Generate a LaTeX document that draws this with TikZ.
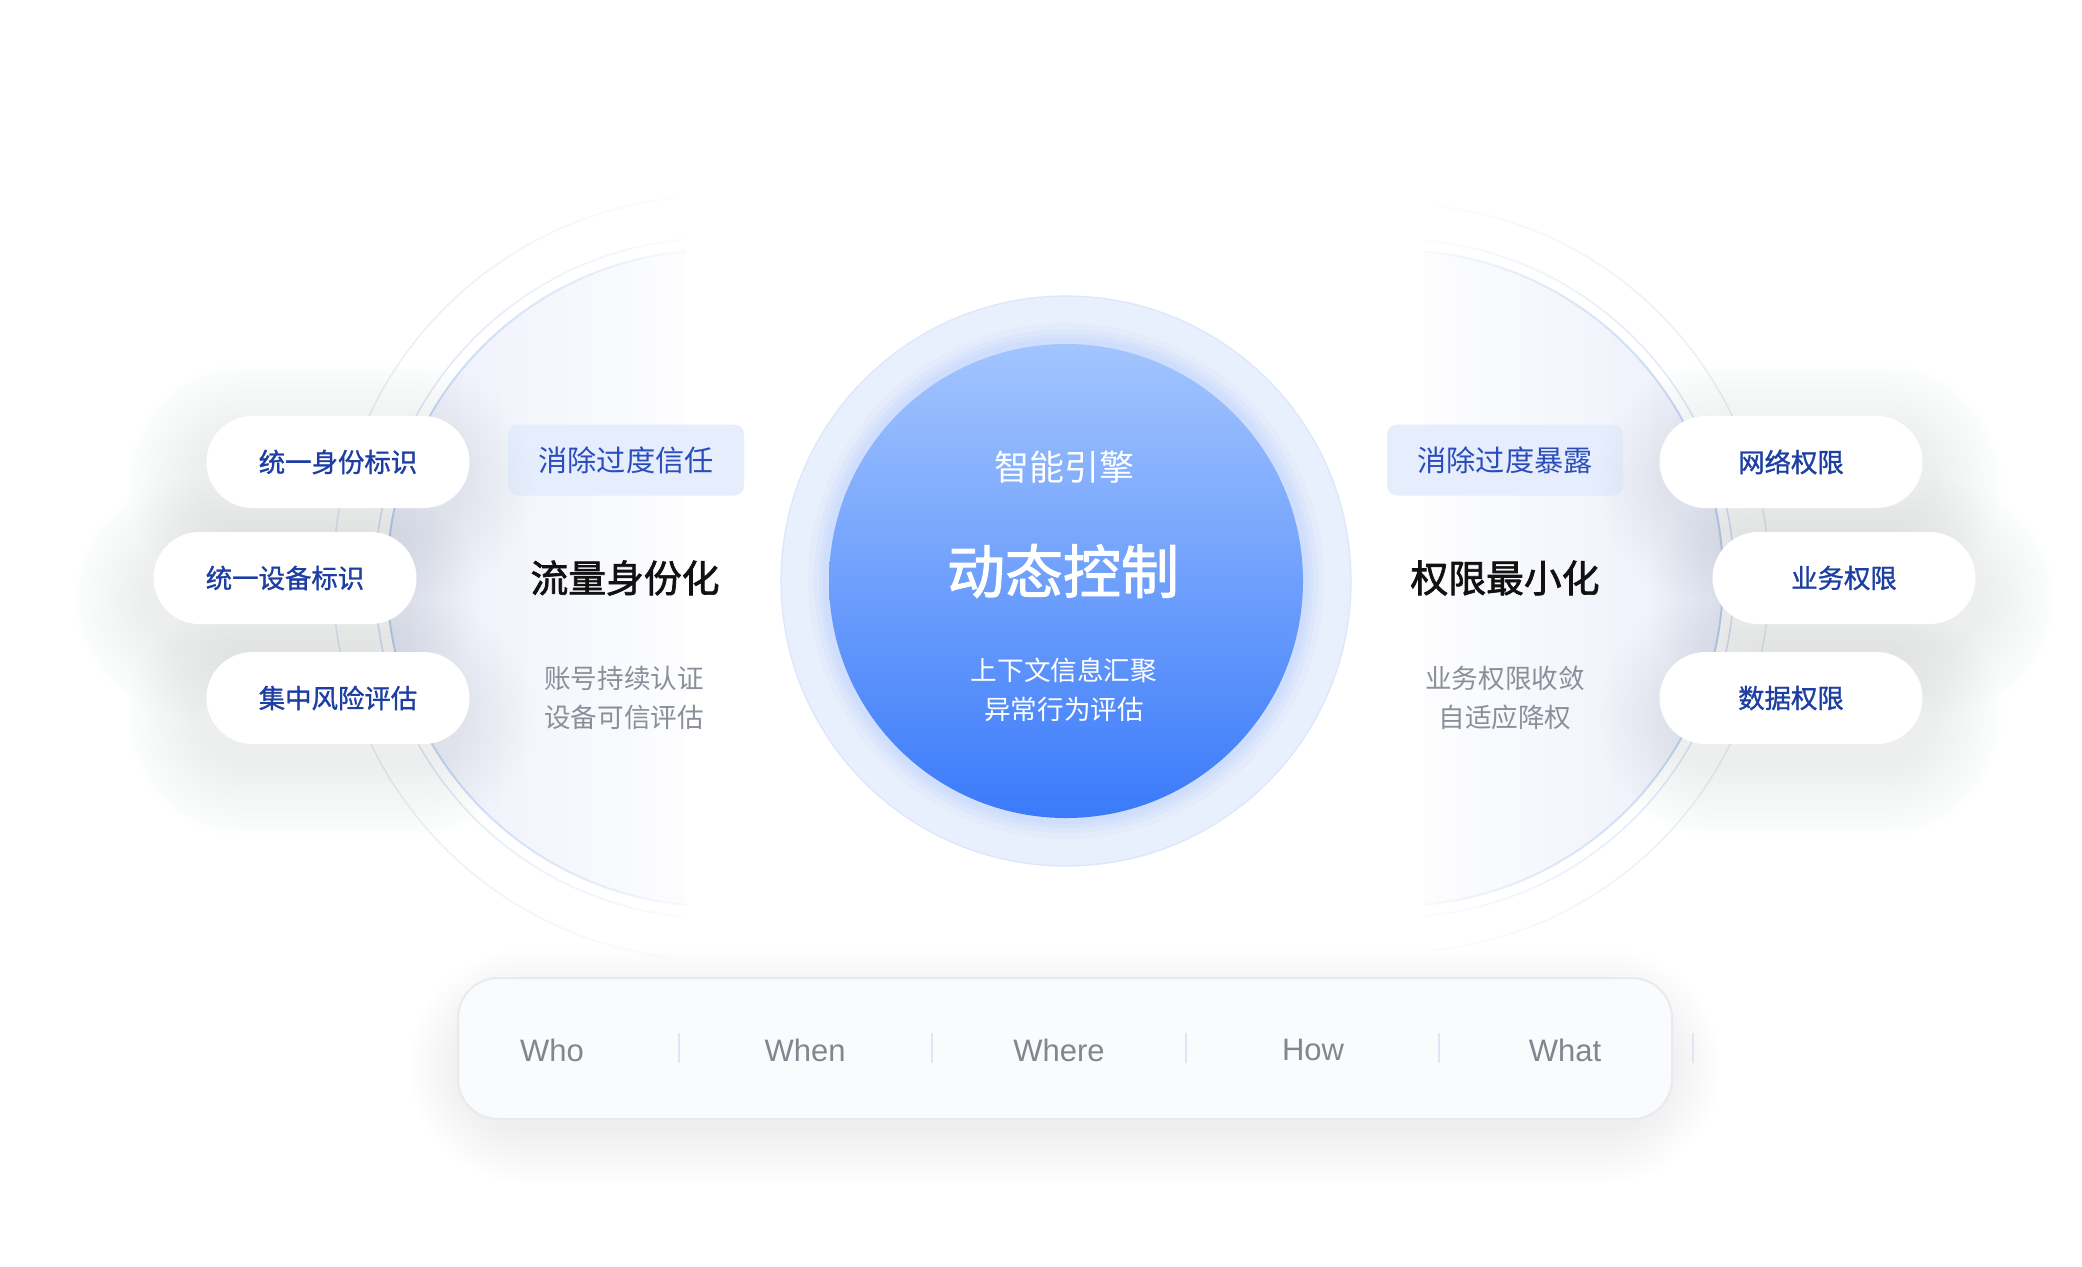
\documentclass[tikz,border=0pt]{standalone}
\usepackage{fontspec}
\setmainfont{Noto Sans CJK SC}
\newfontfamily\medfont[FakeBold=1.1]{Noto Sans CJK SC}
\newfontfamily\semifont[FakeBold=1.8]{Noto Sans CJK SC}
\newfontfamily\latinfont{Liberation Sans}
\usetikzlibrary{fadings}
\definecolor{pilltext}{HTML}{1D3EA3}
\definecolor{tagfill}{HTML}{E6EDFC}
\definecolor{tagtext}{HTML}{2A4DBB}
\definecolor{headtext}{HTML}{111111}
\definecolor{subtext}{HTML}{8A8F99}
\definecolor{wordtext}{HTML}{81868F}
\definecolor{sepcol}{HTML}{DEE6F7}
\definecolor{lfill}{HTML}{EBEFFB}
\definecolor{edgecol}{HTML}{BFD3F5}
\definecolor{arcA}{HTML}{D9E3F5}
\definecolor{arcB}{HTML}{E4EBF7}
\definecolor{halofill}{HTML}{E9F0FD}
\definecolor{halodraw}{HTML}{DCE6FA}
\definecolor{coretop}{HTML}{A3C5FE}
\definecolor{corebot}{HTML}{3A7AFA}
\definecolor{glow}{HTML}{C9DBFC}
\definecolor{boxfill}{HTML}{FAFBFC}
\definecolor{boxdraw}{HTML}{E7EAEF}
\definecolor{shadowcol}{HTML}{7D8797}
\tikzfading[name=fadeR, left color=transparent!0, middle color=transparent!25, right color=transparent!100]
\tikzfading[name=fadeL, right color=transparent!0, middle color=transparent!25, left color=transparent!100]
\tikzset{
  pill/.style={rectangle, rounded corners=23pt, minimum width=131.5pt, minimum height=46pt,
    inner sep=0pt, fill=white, text=pilltext, font=\medfont\fontsize{13.2}{15}\selectfont},
  tag/.style={rectangle, rounded corners=5pt, minimum width=118pt, minimum height=35.5pt,
    inner sep=0pt, fill=tagfill, text=tagtext, font=\fontsize{14.6}{16}\selectfont},
  heading/.style={font=\semifont\fontsize{18.9}{22}\selectfont, text=headtext},
  subtxt/.style={font=\fontsize{13.3}{19.5}\selectfont, text=subtext, align=center},
  word/.style={font=\latinfont\fontsize{15.5}{18}\selectfont, text=wordtext},
  sepline/.style={draw=sepcol, line width=1pt},
  edgearc/.style={draw=edgecol, line width=1pt},
  arcmid/.style={draw=arcA, line width=0.8pt},
  arcout/.style={draw=arcB, line width=0.8pt},
  coretxt/.style={text=white, align=center}
}
% soft shadow: cx, cy, half width, half height, step, opacity per step
\newcommand\softshade[6]{%
  \foreach \e in {1,...,16}{%
    \pgfmathsetmacro\ee{\e*#5}%
    \pgfmathsetmacro\rc{(#4+\ee)*0.5}%
    \fill[shadowcol, opacity=#6, rounded corners=\rc pt]
      ({#1-#3-\ee},{#2-#4-\ee}) rectangle ({#1+#3+\ee},{#2+#4+\ee});
  }%
}
\begin{document}
\begin{tikzpicture}[x=0.5pt,y=-0.5pt]
\useasboundingbox[fill=white] (0,0) rectangle (2082,1266);

% left big circle
\fill[lfill, path fading=fadeR] (715,578) ++(95:328) arc[start angle=95,end angle=265,radius=328] -- cycle;
\draw[arcout, path fading=fadeR] (715,578) ++(96:382) arc[start angle=96,end angle=264,radius=382];
\draw[arcmid, path fading=fadeR] (715,578) ++(95:340) arc[start angle=95,end angle=265,radius=340];
\draw[edgearc, path fading=fadeR] (715,578) ++(95:328) arc[start angle=95,end angle=265,radius=328];

% right big circle
\fill[lfill, path fading=fadeL] (1395,578) ++(-85:328) arc[start angle=-85,end angle=85,radius=328] -- cycle;
\draw[arcout, path fading=fadeL] (1395,578) ++(-84:374) arc[start angle=-84,end angle=84,radius=374];
\draw[arcmid, path fading=fadeL] (1395,578) ++(-85:339) arc[start angle=-85,end angle=85,radius=339];
\draw[edgearc, path fading=fadeL] (1395,578) ++(-85:328) arc[start angle=-85,end angle=85,radius=328];

% central circle
\node[circle, minimum size=285pt, inner sep=0pt, fill=halofill, draw=halodraw, line width=0.6pt] (halo) at (1066,581) {};
\foreach \r/\o in {258/0.15,252/0.25,247/0.35,243/0.5}{
  \fill[glow, opacity=\o] (1066,581) circle[radius=\r];
}
\node[circle, minimum size=237pt, inner sep=0pt, top color=coretop, bottom color=corebot] (core) at (1066,581) {};
\node[coretxt, font=\fontsize{17.5}{20}\selectfont] (engine) at (1064,467) {智能引擎};
\node[coretxt, font=\semifont\fontsize{29}{32}\selectfont] (dyn) at (1063,571) {动态控制};
\node[coretxt, font=\fontsize{13.3}{19.5}\selectfont] (ctx) at (1064,690) {上下文信息汇聚\\异常行为评估};

% left column
\node[tag] (tagL) at (626,460) {消除过度信任};
\node[heading] (headL) at (625,578) {流量身份化};
\node[subtxt] (subL) at (624,698) {账号持续认证\\设备可信评估};

% right column
\node[tag] (tagR) at (1505,460) {消除过度暴露};
\node[heading] (headR) at (1505,578) {权限最小化};
\node[subtxt] (subR) at (1505,698) {业务权限收敛\\自适应降权};

% pill shadows
\softshade{330}{482}{131}{46}{4.5}{0.0065}
\softshade{277}{598}{131}{46}{4.5}{0.0065}
\softshade{330}{718}{131}{46}{4.5}{0.0065}
\softshade{1799}{482}{131}{46}{4.5}{0.0065}
\softshade{1852}{598}{131}{46}{4.5}{0.0065}
\softshade{1799}{718}{131}{46}{4.5}{0.0065}

% pills left
\node[pill] (p1) at (338,462) {统一身份标识};
\node[pill] (p2) at (285,578) {统一设备标识};
\node[pill] (p3) at (338,698) {集中风险评估};

% pills right
\node[pill] (q1) at (1791,462) {网络权限};
\node[pill] (q2) at (1844,578) {业务权限};
\node[pill] (q3) at (1791,698) {数据权限};

% bottom box
\softshade{1065}{1066}{600}{62}{3.5}{0.004}
\node[rectangle, rounded corners=20pt, minimum width=607pt, minimum height=70.5pt, inner sep=0pt,
  fill=boxfill, draw=boxdraw, line width=1pt] (box) at (1065,1048.5) {};
\node[word] (w1) at (552,1050) {Who};
\node[word] (w2) at (805,1050) {When};
\node[word] (w3) at (1059,1050) {Where};
\node[word] (w4) at (1313,1050) {How};
\node[word] (w5) at (1565,1050) {What};
\foreach \x/\n in {679/s1,932/s2,1186/s3,1439/s4,1693/s5}{
  \coordinate (\n a) at (\x,1033);
  \coordinate (\n b) at (\x,1063);
  \draw[sepline] (\n a) -- (\n b);
}
\end{tikzpicture}
\end{document}
